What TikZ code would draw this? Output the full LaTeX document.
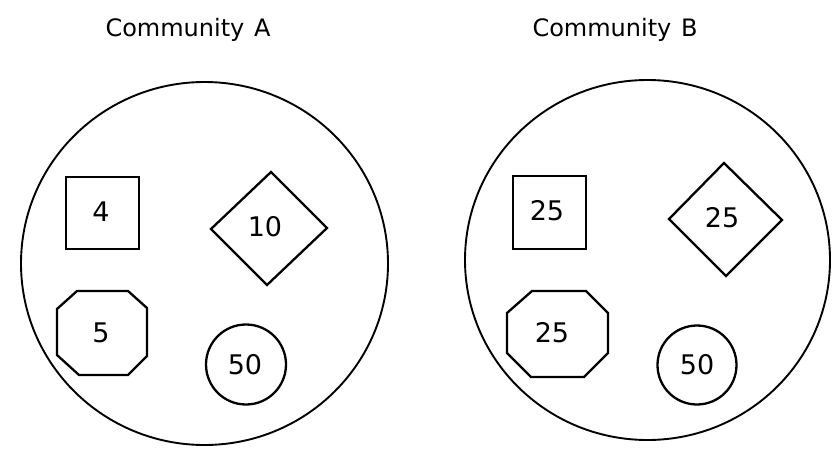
\documentclass[tikz,border=0pt]{standalone}
\usepackage{fontspec}
\setmainfont{DejaVu Sans}
\tikzset{
  comm/.style={draw, line width=1.9pt},
  shp/.style={draw, line width=2.3pt, line join=miter},
  num/.style={inner sep=0pt, font=\fontsize{27}{27}\selectfont},
  title/.style={inner sep=0pt, font=\fontsize{24}{24}\selectfont}
}
\begin{document}
\begin{tikzpicture}[x=1pt,y=-1pt]
\useasboundingbox (0,0) rectangle (833,455);
% titles
\node[title] (tA) at (188,30) {Community\hspace{0.4em}A};
\node[title] (tB) at (615,30) {Community\hspace{0.4em}B};
% community circles
\draw[comm] (204.5,263.5) ellipse [x radius=183.5, y radius=181.5];
\draw[comm] (647.5,260) ellipse [x radius=182.5, y radius=180];
% ---- Community A ----
\draw[shp] (66,177) rectangle (139,249);
\node[num] (a4) at (101,212) {4};
\draw[shp] (271,172) -- (327,228) -- (267,285) -- (211,229) -- cycle;
\node[num] (a10) at (265,227) {10};
\draw[shp] (77,291) -- (128,291) -- (147,308) -- (147,356) -- (128,375) -- (79,375) -- (57,355) -- (57,309) -- cycle;
\node[num] (a5) at (101,333) {5};
\draw[shp] (246,364.5) circle [radius=40];
\node[num] (a50) at (245,365) {50};
% ---- Community B ----
\draw[shp] (513,176) rectangle (586,249);
\node[num] (b25s) at (547,211) {25};
\draw[shp] (724,163) -- (782,220) -- (726,276) -- (669,219) -- cycle;
\node[num] (b25d) at (722,218) {25};
\draw[shp] (532,291) -- (586,291) -- (608,313) -- (608,353) -- (584,377) -- (531,377) -- (507,353) -- (507,313) -- cycle;
\node[num] (b25o) at (552,333) {25};
\draw[shp] (697,365) circle [radius=39.5];
\node[num] (b50) at (697,365) {50};
\end{tikzpicture}
\end{document}
